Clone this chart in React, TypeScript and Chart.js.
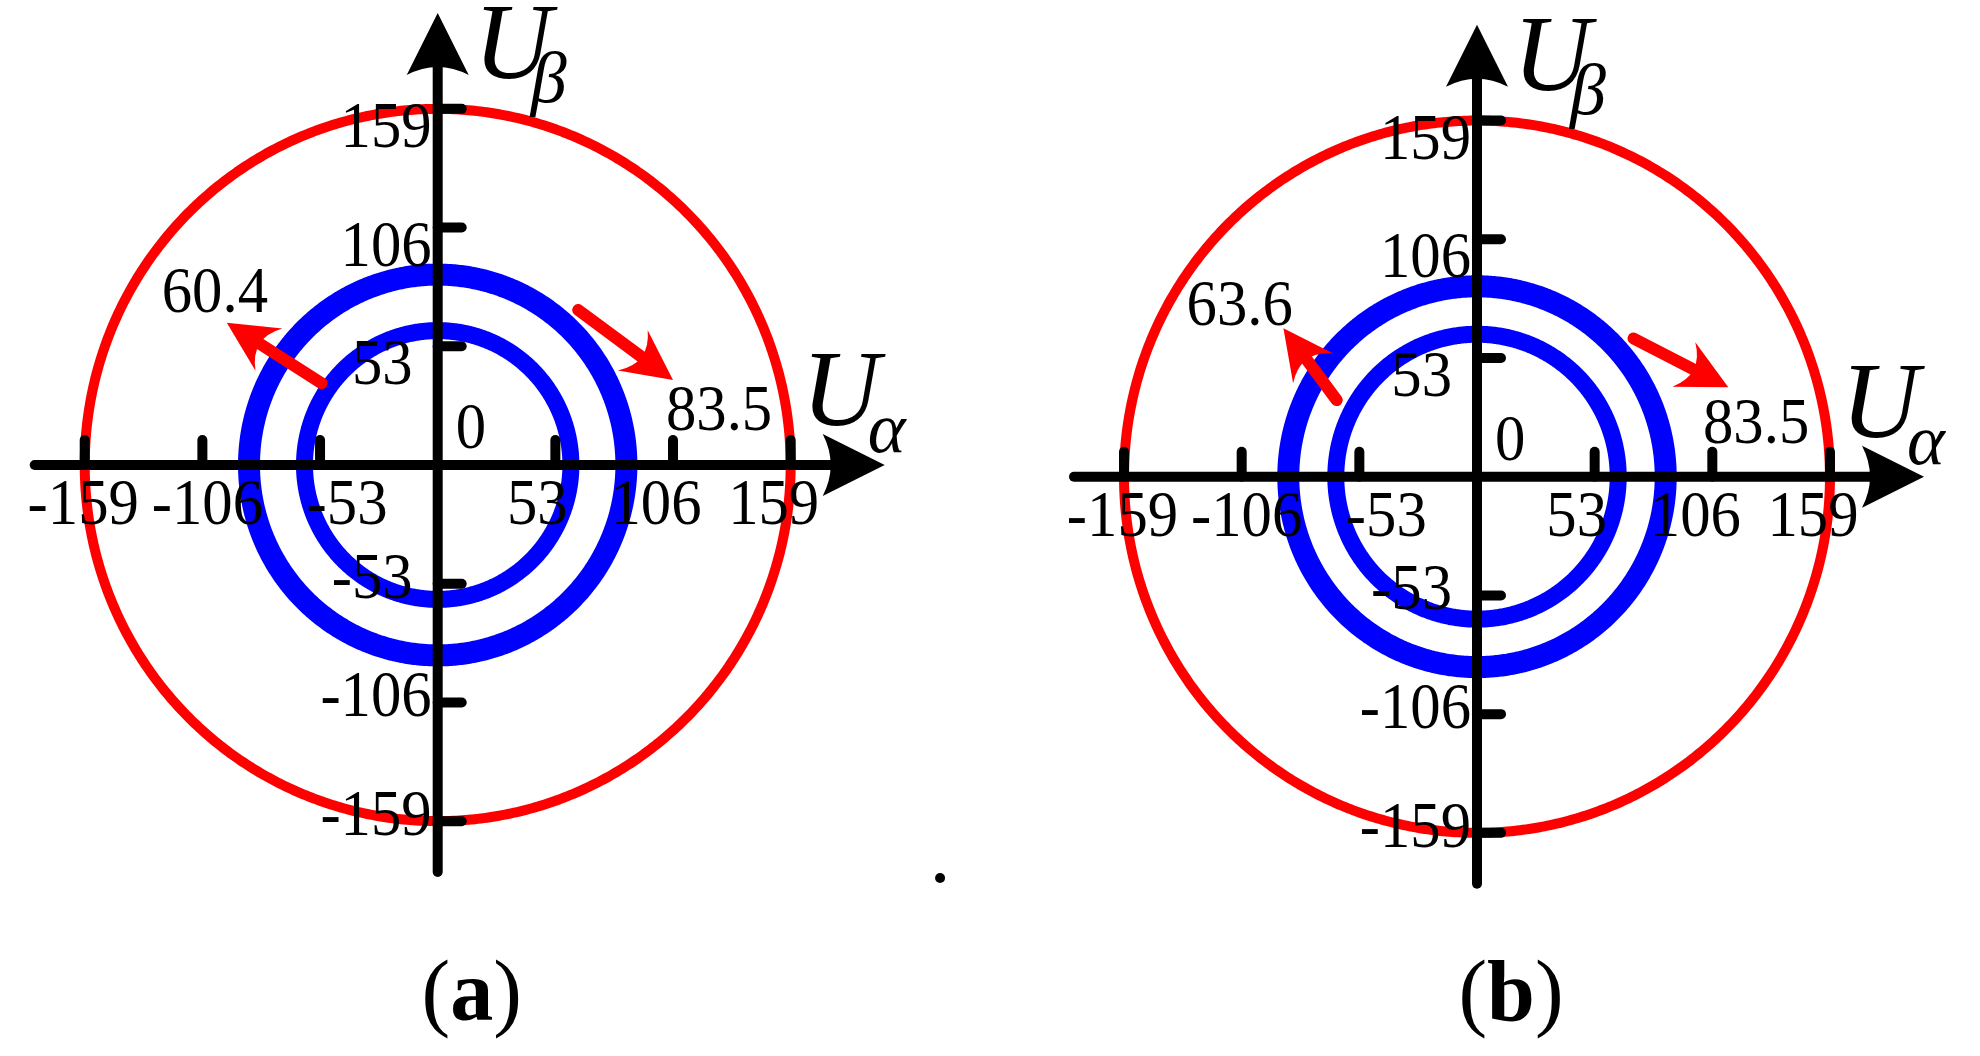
import React, { useEffect, useRef } from "react";
import { Chart, registerables } from "chart.js";

Chart.register(...registerables);

// ---------------- data ----------------
const tickValues = [-159, -106, -53, 53, 106, 159];
const tickLabels = ["-159", "-106", "-53", "53", "106", "159"];
const originLabel = "0";
const referenceRadius = 159; // red circle
const ringRadiiA = [60, 85]; // blue rings, panel (a)
const ringRadiiB = [63.6, 85]; // blue rings, panel (b)
const innerValueLabels = ["60.4", "63.6"];
const outerValueLabels = ["83.5", "83.5"];
const captionLetters = ["a", "b"];
const axisNameX = ["U", "α"];
const axisNameY = ["U", "β"];

// annotation arrows in data units: [tailX, tailY, tipX, tipY]
const innerArrowA = [-52.3, 36.5, -95.0, 63.5];
const outerArrowA = [63.3, 69.2, 106.0, 37.9];
const innerArrowB = [-63.2, 34.2, -87.2, 66.3];
const outerArrowB = [70.5, 61.7, 113.2, 39.9];
// annotation label anchors in data units: [left x, baseline y]
const innerLabelPosA = [-124.3, 68.4];
const outerLabelPosA = [102.8, 15.6];
const innerLabelPosB = [-130.8, 67.7];
const outerLabelPosB = [101.8, 15.1];
const strayDotA = [226.3, -184.4];

// ---------------- layout / style ----------------
const W = 990;
const H = 1056;
const FONT = "'Liberation Serif', 'Times New Roman', serif";
const RED = "#ff0000";
const BLUE = "#0000ff";
const BLACK = "#000000";
const TICK_FONT = `66px ${FONT}`;
const SQUEEZE = 0.92;
// label x-offsets (px) from their tick for the x-axis labels
const xLabelShift = [-1.5, 5, 27, -18, -17, -17];
// right edge offsets (px) left of the vertical axis for y labels
const yLabelRight = [6, 6, 25, 25, 6, 6];

const panels = [
  {
    left: 0, originX: 437.7, originY: 465, pxX: 2.22, pxY: 2.24,
    rings: ringRadiiA, innerArrow: innerArrowA, outerArrow: outerArrowA,
    innerPos: innerLabelPosA, outerPos: outerLabelPosA,
    innerLabel: innerValueLabels[0], outerLabel: outerValueLabels[0],
    caption: captionLetters[0], dot: strayDotA,
  },
  {
    left: 990, originX: 1477, originY: 476.7, pxX: 2.22, pxY: 2.24,
    rings: ringRadiiB, innerArrow: innerArrowB, outerArrow: outerArrowB,
    innerPos: innerLabelPosB, outerPos: outerLabelPosB,
    innerLabel: innerValueLabels[1], outerLabel: outerValueLabels[1],
    caption: captionLetters[1], dot: null,
  },
];

function circlePoints(r: number) {
  const pts: { x: number; y: number }[] = [];
  const n = 360;
  for (let i = 0; i <= n; i++) {
    const a = (i / n) * Math.PI * 2;
    pts.push({ x: r * Math.cos(a), y: r * Math.sin(a) });
  }
  return pts;
}

function drawText(ctx: CanvasRenderingContext2D, s: string, x: number, y: number, font: string, align: string = "left", sx = SQUEEZE) {
  ctx.save();
  ctx.font = font;
  ctx.textBaseline = "alphabetic";
  ctx.textAlign = "left";
  const w = ctx.measureText(s).width * sx;
  let lx = x;
  if (align === "center") lx = x - w / 2;
  else if (align === "right") lx = x - w;
  ctx.translate(lx, y);
  ctx.scale(sx, 1);
  ctx.fillText(s, 0, 0);
  ctx.restore();
  return w;
}

function arrowHead(ctx: CanvasRenderingContext2D, tipX: number, tipY: number, dx: number, dy: number, len: number, half: number, notch: number) {
  const bx = tipX - dx * len;
  const by = tipY - dy * len;
  const px = -dy;
  const py = dx;
  ctx.beginPath();
  ctx.moveTo(tipX, tipY);
  ctx.lineTo(bx + px * half, by + py * half);
  ctx.quadraticCurveTo(bx + dx * notch, by + dy * notch, bx - px * half, by - py * half);
  ctx.closePath();
  ctx.fill();
}

function makePlugin(p: any) {
  return {
    id: "crossAxes",
    afterDatasetsDraw(chart: any) {
      const ctx: CanvasRenderingContext2D = chart.ctx;
      const xs = chart.scales.x;
      const ys = chart.scales.y;
      const X = (v: number) => xs.getPixelForValue(v);
      const Y = (v: number) => ys.getPixelForValue(v);
      const ox = X(0);
      const oy = Y(0);
      ctx.save();
      ctx.fillStyle = BLACK;
      ctx.strokeStyle = BLACK;
      ctx.lineCap = "round";
      ctx.lineWidth = 10;

      // axis lines
      ctx.beginPath();
      ctx.moveTo(ox - 403, oy);
      ctx.lineTo(ox + 400, oy);
      ctx.stroke();
      ctx.beginPath();
      ctx.moveTo(ox, oy + 407);
      ctx.lineTo(ox, oy - 400);
      ctx.stroke();
      // axis arrow heads
      arrowHead(ctx, ox + 447, oy, 1, 0, 62, 31, 16);
      arrowHead(ctx, ox, oy - 452, 0, -1, 62, 31, 16);

      // ticks
      tickValues.forEach((v) => {
        const px = X(v);
        ctx.beginPath();
        ctx.moveTo(px, oy);
        ctx.lineTo(px, oy - 25);
        ctx.stroke();
        const py = Y(v);
        ctx.beginPath();
        ctx.moveTo(ox, py);
        ctx.lineTo(ox + 24, py);
        ctx.stroke();
      });

      // tick labels
      tickValues.forEach((v, i) => {
        drawText(ctx, tickLabels[i], X(v) + xLabelShift[i], oy + 59, TICK_FONT, "center");
        const py = Y(v);
        const base = v > 0 ? py + 38 : py + 14;
        drawText(ctx, tickLabels[i], ox - yLabelRight[i], base, TICK_FONT, "right");
      });
      drawText(ctx, originLabel, ox + 18, oy - 17, TICK_FONT, "left");

      // axis names
      drawText(ctx, axisNameY[0], ox + 36, oy - 387, `italic 108px ${FONT}`, "left", 1);
      drawText(ctx, axisNameY[1], ox + 93, oy - 363, `italic 72px ${FONT}`, "left", 1);
      drawText(ctx, axisNameX[0], ox + 364, oy - 40, `italic 108px ${FONT}`, "left", 1);
      drawText(ctx, axisNameX[1], ox + 430, oy - 13, `italic 72px ${FONT}`, "left", 1);

      // red annotation arrows
      ctx.fillStyle = RED;
      ctx.strokeStyle = RED;
      ctx.lineWidth = 12;
      [p.innerArrow, p.outerArrow].forEach((a: number[]) => {
        const tx = X(a[0]);
        const ty = Y(a[1]);
        const hx = X(a[2]);
        const hy = Y(a[3]);
        const L = Math.hypot(hx - tx, hy - ty);
        const dx = (hx - tx) / L;
        const dy = (hy - ty) / L;
        ctx.beginPath();
        ctx.moveTo(tx, ty);
        ctx.lineTo(hx - dx * 40, hy - dy * 40);
        ctx.stroke();
        arrowHead(ctx, hx, hy, dx, dy, 50, 25, 22);
      });

      // value labels
      ctx.fillStyle = BLACK;
      drawText(ctx, p.innerLabel, X(p.innerPos[0]), Y(p.innerPos[1]), TICK_FONT, "left");
      drawText(ctx, p.outerLabel, X(p.outerPos[0]), Y(p.outerPos[1]), TICK_FONT, "left");

      // stray dot
      if (p.dot) {
        ctx.beginPath();
        ctx.arc(X(p.dot[0]), Y(p.dot[1]), 5, 0, Math.PI * 2);
        ctx.fill();
      }

      // caption "(a)" / "(b)"
      const cf = `86px ${FONT}`;
      const bf = `bold 86px ${FONT}`;
      ctx.font = cf;
      const wl = ctx.measureText("(").width;
      const wr = ctx.measureText(")").width;
      ctx.font = bf;
      const wm = ctx.measureText(p.caption).width;
      const total = wl + wm + wr;
      let cx = ox + 34 - total / 2;
      const cy = 1020;
      ctx.textAlign = "left";
      ctx.textBaseline = "alphabetic";
      ctx.font = cf;
      ctx.fillText("(", cx, cy);
      cx += wl;
      ctx.font = bf;
      ctx.fillText(p.caption, cx, cy);
      cx += wm;
      ctx.font = cf;
      ctx.fillText(")", cx, cy);

      ctx.restore();
    },
  };
}

function ringDataset(label: string, r: number, color: string, width: number) {
  return {
    label,
    data: circlePoints(r),
    showLine: true,
    borderColor: color,
    borderWidth: width,
    borderJoinStyle: "round",
    borderCapStyle: "round",
    pointRadius: 0,
    tension: 0.2,
    fill: false,
  };
}

function Panel({ p }: { p: any }) {
  const ref = useRef<HTMLCanvasElement | null>(null);
  useEffect(() => {
    const canvas = ref.current;
    if (!canvas) return;
    const localOx = p.originX - p.left;
    const chart = new Chart(canvas, {
      type: "scatter",
      data: {
        datasets: [
          ringDataset("reference", referenceRadius, RED, 10),
          ringDataset("inner", p.rings[0], BLUE, 17),
          ringDataset("outer", p.rings[1], BLUE, 22),
        ],
      },
      options: {
        animation: false,
        responsive: false,
        devicePixelRatio: 1,
        events: [],
        layout: { padding: 0 },
        plugins: { legend: { display: false }, tooltip: { enabled: false } },
        scales: {
          x: { type: "linear", display: false, min: -localOx / p.pxX, max: (W - localOx) / p.pxX },
          y: { type: "linear", display: false, min: -(H - p.originY) / p.pxY, max: p.originY / p.pxY },
        },
      },
      plugins: [makePlugin(p)],
    } as any);
    return () => chart.destroy();
  }, [p]);
  return (
    <canvas
      ref={ref}
      width={W}
      height={H}
      style={{ position: "absolute", left: p.left, top: 0, width: W, height: H }}
    />
  );
}

export default function App() {
  return (
    <div style={{ position: "absolute", left: 0, top: 0, width: 1980, height: 1056, background: "#ffffff", overflow: "hidden" }}>
      {panels.map((p, i) => (
        <Panel key={i} p={p} />
      ))}
    </div>
  );
}
